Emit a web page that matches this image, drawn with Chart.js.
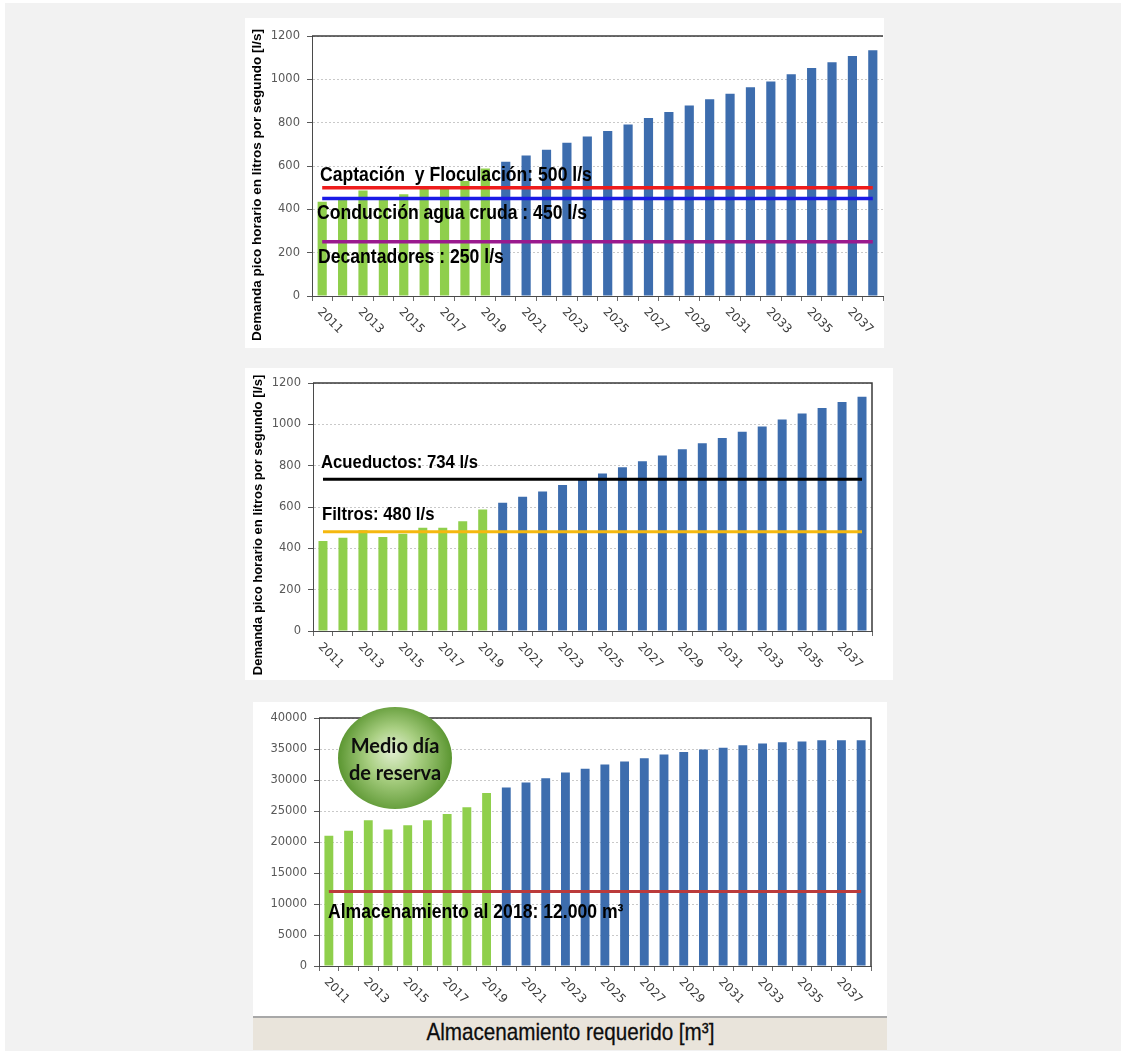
<!DOCTYPE html>
<html lang="es">
<head>
<meta charset="utf-8">
<title>Demanda y almacenamiento</title>
<script src="https://cdn.jsdelivr.net/npm/chart.js@4/dist/chart.umd.min.js"></script>
<style>
  html, body { margin: 0; padding: 0; background: #ffffff; }
  body { width: 1126px; height: 1054px; position: relative; overflow: hidden; }
  #fondo { position: absolute; left: 5px; top: 3px; width: 1116px; height: 1048px; background: #f2f2f2; }
  .panel { position: absolute; background: #ffffff; }
  .panel canvas { display: block; }
  #p1 { left: 245px; top: 18px; width: 639px; height: 330px; }
  #p2 { left: 245px; top: 368px; width: 648px; height: 312px; }
  #p3 { left: 253px; top: 702px; width: 634px; height: 314px; }
  #pie {
    position: absolute; left: 253px; top: 1016px; width: 634px; height: 34px;
    background: #e9e4db; border-top: 2px solid #a8a8a8; box-sizing: border-box;
    text-align: center; line-height: 31px; color: #0d0d0d;
  }
  #pie span { display: inline-block; transform: scaleX(0.86); font: 24px "Liberation Sans", Arial, sans-serif; -webkit-text-stroke: 0.3px #0d0d0d; }
</style>
</head>
<body>
<div id="fondo"></div>
<div class="panel" id="p1"><canvas id="g1" width="639" height="330"></canvas></div>
<div class="panel" id="p2"><canvas id="g2" width="648" height="312"></canvas></div>
<div class="panel" id="p3"><canvas id="g3" width="634" height="314"></canvas></div>
<div id="pie"><span>Almacenamiento requerido [m³]</span></div>

<script>
// Años del periodo de análisis
const anios = ['2011','2012','2013','2014','2015','2016','2017','2018','2019','2020',
               '2021','2022','2023','2024','2025','2026','2027','2028','2029','2030',
               '2031','2032','2033','2034','2035','2036','2037','2038'];
const primerAnioProyectado = 2020;

// Demanda pico horaria [l/s]
const demandaPico = [435, 451, 487, 455, 470, 499, 499, 531, 588, 620,
                     649, 675, 707, 736, 762, 792, 821, 849, 879, 908,
                     934, 964, 990, 1023, 1052, 1079, 1108, 1134];

// Almacenamiento requerido [m3]
const almacenamientoRequerido = [21000, 21800, 23500, 22000, 22700, 23500, 24500, 25600, 27900, 28800,
                                 29600, 30300, 31200, 31800, 32500, 33000, 33500, 34100, 34500, 34900,
                                 35200, 35600, 35900, 36100, 36200, 36400, 36400, 36400];

// Capacidades instaladas
const capacidadesTratamiento = [500, 450, 250];
const nombresTratamiento = ['Captación  y Floculación: 500 l/s', 'Conducción agua cruda : 450 l/s', 'Decantadores : 250 l/s'];
const capacidadesConduccion = [734, 480];
const nombresConduccion = ['Acueductos: 734 l/s', 'Filtros: 480 l/s'];
const capacidadAlmacenamiento = [12000];
const nombresAlmacenamiento = ['Almacenamiento al 2018: 12.000 m³'];

// Marcas del eje vertical
const ticksDemanda = { min: 0, max: 1200, paso: 200 };
const ticksAlmacenamiento = { min: 0, max: 40000, paso: 5000 };

const tituloEjeDemanda = 'Demanda pico horario en litros por segundo [l/s]';
const textoBurbuja = ['Medio día', 'de reserva'];

const VERDE = '#8fcf4c';
const AZUL = '#3d6dae';

function textoEstrecho(ctx, texto, x, y, tam, escala) {
  ctx.save();
  ctx.translate(x, y);
  ctx.scale(escala, 1);
  ctx.font = 'bold ' + tam + 'px "Liberation Sans", Arial, sans-serif';
  ctx.fillStyle = '#000000';
  ctx.textAlign = 'left';
  ctx.textBaseline = 'middle';
  ctx.fillText(texto, 0, 0);
  ctx.restore();
}

// Estilo propio de cada gráfico
const estilos = {
  g1: {
    lineas: capacidadesTratamiento.map((v, i) => ({ valor: v, texto: nombresTratamiento[i] })),
    colores: ['#ee1c1c', '#1a1ae6', '#9a1a8e'],
    grosor: 3.5,
    textoX: [75, 72, 73],
    textoDy: [-12, 15, 15.5],
    tamTexto: 20,
    escalaTexto: 0.88,
    titulo: { x: 12, y: 167, tam: 13.5 },
    marcoDerecho: false
  },
  g2: {
    lineas: capacidadesConduccion.map((v, i) => ({ valor: v, texto: nombresConduccion[i] })),
    colores: ['#000000', '#f5b80f'],
    grosor: 3,
    textoX: [76, 77],
    textoDy: [-17, -17],
    tamTexto: 19,
    escalaTexto: 0.88,
    titulo: { x: 13, y: 157, tam: 13 },
    marcoDerecho: true
  },
  g3: {
    lineas: capacidadAlmacenamiento.map((v, i) => ({ valor: v, texto: nombresAlmacenamiento[i] })),
    colores: ['#bb3b3b'],
    grosor: 3,
    textoX: [75],
    textoDy: [20.5],
    tamTexto: 20,
    escalaTexto: 0.88,
    titulo: null,
    marcoDerecho: true,
    burbuja: { x: 142, y: 56, rx: 57, ry: 51 }
  }
};

const decoracion = {
  id: 'decoracion',
  afterDatasetsDraw(chart) {
    const e = estilos[chart.canvas.id];
    const { ctx, scales: { x, y } } = chart;
    const x0 = x.getPixelForValue(0);
    const x1 = x.getPixelForValue(anios.length - 1);
    // líneas de capacidad
    e.lineas.forEach((l, i) => {
      const py = y.getPixelForValue(l.valor);
      ctx.save();
      ctx.strokeStyle = e.colores[i];
      ctx.lineWidth = e.grosor;
      ctx.beginPath();
      ctx.moveTo(x0, py);
      ctx.lineTo(x1, py);
      ctx.stroke();
      ctx.restore();
    });
    e.lineas.forEach((l, i) => {
      const py = y.getPixelForValue(l.valor);
      textoEstrecho(ctx, l.texto, e.textoX[i], py + e.textoDy[i], e.tamTexto, e.escalaTexto);
    });
  },
  afterDraw(chart) {
    const e = estilos[chart.canvas.id];
    const { ctx, chartArea: a, scales: { x } } = chart;

    // marco superior y derecho del área de trazado
    ctx.save();
    ctx.strokeStyle = '#3a3a3a';
    ctx.lineWidth = 1.5;
    ctx.beginPath();
    ctx.moveTo(a.left, a.top);
    ctx.lineTo(a.right, a.top);
    if (e.marcoDerecho) ctx.lineTo(a.right, a.bottom);
    ctx.stroke();
    ctx.restore();

    // etiquetas de años inclinadas
    ctx.save();
    ctx.fillStyle = '#3a3a3a';
    ctx.font = '12px "DejaVu Sans", Verdana, sans-serif';
    ctx.textAlign = 'left';
    ctx.textBaseline = 'middle';
    anios.forEach((anio, i) => {
      if (i % 2 !== 0) return;
      ctx.save();
      ctx.translate(x.getPixelForValue(i) - 3, a.bottom + 14);
      ctx.rotate(Math.PI / 4);
      ctx.fillText(anio, 0, 0);
      ctx.restore();
    });
    ctx.restore();

    // título del eje vertical
    if (e.titulo) {
      ctx.save();
      ctx.translate(e.titulo.x, e.titulo.y);
      ctx.rotate(-Math.PI / 2);
      ctx.font = 'bold ' + e.titulo.tam + 'px "Liberation Sans", Arial, sans-serif';
      ctx.fillStyle = '#000000';
      ctx.textAlign = 'center';
      ctx.textBaseline = 'middle';
      ctx.fillText(tituloEjeDemanda, 0, 0);
      ctx.restore();
    }

    // burbuja de reserva
    if (e.burbuja) {
      const b = e.burbuja;
      ctx.save();
      const g = ctx.createRadialGradient(b.x - 3, b.y - 8, 0, b.x, b.y, b.rx);
      g.addColorStop(0, '#e2efd2');
      g.addColorStop(0.45, '#a9cf82');
      g.addColorStop(1, '#5b9631');
      ctx.fillStyle = g;
      ctx.beginPath();
      ctx.ellipse(b.x, b.y, b.rx, b.ry, 0, 0, Math.PI * 2);
      ctx.fill();
      ctx.font = 'bold 20px Lato, "Open Sans", sans-serif';
      ctx.fillStyle = '#0d0d0d';
      ctx.textAlign = 'center';
      ctx.textBaseline = 'middle';
      ctx.fillText(textoBurbuja[0], b.x, b.y - 11);
      ctx.fillText(textoBurbuja[1], b.x, b.y + 16);
      ctx.restore();
    }
  }
};

function crearGrafico(id, valores, marcas, anchoEje, relleno) {
  return new Chart(document.getElementById(id), {
    type: 'bar',
    data: {
      labels: anios,
      datasets: [{
        data: valores,
        backgroundColor: c => Number(anios[c.dataIndex]) < primerAnioProyectado ? VERDE : AZUL,
        borderWidth: 0,
        barPercentage: 0.45,
        categoryPercentage: 1
      }]
    },
    options: {
      responsive: false,
      maintainAspectRatio: false,
      animation: false,
      events: [],
      layout: { padding: relleno },
      plugins: { legend: { display: false }, tooltip: { enabled: false } },
      scales: {
        x: {
          ticks: { display: false },
          grid: { offset: true, drawOnChartArea: false, tickLength: 5, color: '#6a6a6a', lineWidth: 1 },
          border: { color: '#4a4a4a', width: 1 },
          afterFit: s => { s.height = 40; }
        },
        y: {
          min: marcas.min,
          max: marcas.max,
          ticks: {
            stepSize: marcas.paso,
            color: '#595959',
            padding: 7,
            font: { family: '"DejaVu Sans", Verdana, sans-serif', size: 11.5 },
            callback: v => String(v)
          },
          grid: { color: '#c9c9c9', lineWidth: 1, tickColor: '#595959', tickLength: 5 },
          border: { color: '#4a4a4a', width: 1, dash: [2, 2] },
          afterFit: s => { s.width = anchoEje; }
        }
      }
    },
    plugins: [decoracion]
  });
}

crearGrafico('g1', demandaPico, ticksDemanda, 67, { left: 0, right: 1, top: 18, bottom: 12 });
crearGrafico('g2', demandaPico, ticksDemanda, 68, { left: 0, right: 21, top: 15, bottom: 9 });
crearGrafico('g3', almacenamientoRequerido, ticksAlmacenamiento, 66, { left: 0, right: 16, top: 16, bottom: 10 });
</script>
</body>
</html>
